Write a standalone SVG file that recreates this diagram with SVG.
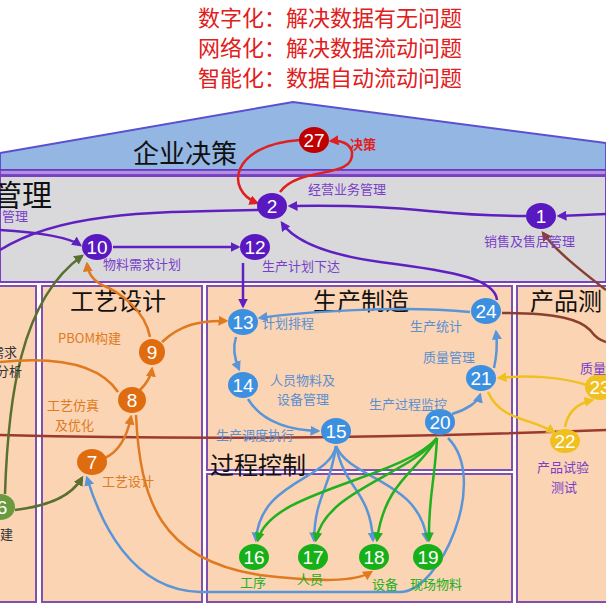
<svg xmlns="http://www.w3.org/2000/svg" width="606" height="607" viewBox="0 0 606 607">
<defs>
<style>
text{font-family:"Noto Sans CJK SC","Liberation Sans",sans-serif}
.t{fill:#e02020;font-size:22px}
.h{fill:#111;font-size:24px}
.lp{fill:#7a3fc8;font-size:13px}
.lb{fill:#5a8fd0;font-size:13px}
.lo{fill:#e07a20;font-size:13px}
.lg{fill:#20b020;font-size:13px}
.n{fill:#fff;font-size:19px;font-family:"Liberation Sans",sans-serif;text-anchor:middle}
.c path{fill:none;stroke-width:2.5}
.box{fill:#fbd4b4;stroke:#8050b0;stroke-width:2}
</style>
<marker id="ap" markerWidth="4" markerHeight="4" refX="3" refY="2" orient="auto"><path d="M0,0L4,2L0,4z" fill="#6020c0"/></marker>
<marker id="ar" markerWidth="4" markerHeight="4" refX="3" refY="2" orient="auto"><path d="M0,0L4,2L0,4z" fill="#e02020"/></marker>
<marker id="ab" markerWidth="4" markerHeight="4" refX="3" refY="2" orient="auto"><path d="M0,0L4,2L0,4z" fill="#5a95d8"/></marker>
<marker id="ag" markerWidth="4" markerHeight="4" refX="3" refY="2" orient="auto"><path d="M0,0L4,2L0,4z" fill="#20b020"/></marker>
<marker id="ao" markerWidth="4" markerHeight="4" refX="3" refY="2" orient="auto"><path d="M0,0L4,2L0,4z" fill="#e07a20"/></marker>
<marker id="ay" markerWidth="4" markerHeight="4" refX="3" refY="2" orient="auto"><path d="M0,0L4,2L0,4z" fill="#f0c020"/></marker>
<marker id="av" markerWidth="4" markerHeight="4" refX="3" refY="2" orient="auto"><path d="M0,0L4,2L0,4z" fill="#5a7030"/></marker>
<marker id="an" markerWidth="4" markerHeight="4" refX="3" refY="2" orient="auto"><path d="M0,0L4,2L0,4z" fill="#8a4030"/></marker>
</defs>
<rect width="606" height="607" fill="#fff"/>
<g id="title">
<text class="t" x="330" y="26" text-anchor="middle">数字化：解决数据有无问题</text>
<text class="t" x="330" y="56" text-anchor="middle">网络化：解决数据流动问题</text>
<text class="t" x="330" y="86" text-anchor="middle">智能化：数据自动流动问题</text>
</g>
<g id="structure">
<polygon points="0,153 293,102 606,143 606,170 0,170" fill="#94b6e2" stroke="#5a50d0" stroke-width="2"/>
<rect x="0" y="170" width="606" height="5" fill="#b090e0" stroke="#6a30c0" stroke-width="1.5"/>
<rect x="0" y="176" width="606" height="106" fill="#d9d9dc" stroke="#7a40c0" stroke-width="2"/>
<rect class="box" x="-2" y="286" width="38" height="316"/>
<rect class="box" x="42" y="286" width="160" height="316"/>
<rect class="box" x="207" y="286" width="305" height="184"/>
<rect class="box" x="207" y="474" width="305" height="128"/>
<rect class="box" x="517" y="286" width="92" height="316"/>
<text class="h" x="133" y="163" style="font-size:26px">企业决策</text>
<text class="h" x="52" y="206" text-anchor="end" style="font-size:30px">管理</text>
<text class="lp" x="28" y="221" text-anchor="end">管理</text>
<text class="h" x="70" y="310">工艺设计</text>
<text class="h" x="313" y="310">生产制造</text>
<text class="h" x="530" y="310">产品测</text>
<text class="h" x="210" y="474">过程控制</text>
</g>
<g class="c" id="connectors">
<path d="M0,435 C200,440 400,438 606,430" stroke="#9a3a30" stroke-width="2"/>
<path d="M300,140 C230,145 225,190 257,203" stroke="#e02020" marker-end="url(#ar)"/>
<path d="M280,192 C300,165 355,180 352,152 C350,143 340,140 331,141" stroke="#e02020" marker-end="url(#ar)"/>
<path d="M606,214 L559,216" stroke="#6020c0" marker-end="url(#ap)"/>
<path d="M526,216 C430,216 420,204 290,206" stroke="#6020c0" marker-end="url(#ap)"/>
<path d="M258,210 C150,212 60,212 0,250" stroke="#6020c0"/>
<path d="M0,230 C40,232 70,238 80,245" stroke="#6020c0" marker-end="url(#ap)"/>
<path d="M113,247 L238,247" stroke="#6020c0" marker-end="url(#ap)"/>
<path d="M243,263 L243,306" stroke="#6020c0" marker-end="url(#ap)"/>
<path d="M497,300 C495,280 460,272 380,262 C330,255 295,242 282,223" stroke="#6020c0" marker-end="url(#ap)"/>
<path d="M606,290 C580,270 555,250 543,233" stroke="#8a4030" stroke-width="2" marker-end="url(#an)"/>
<path d="M502,313 C560,313 580,320 590,330 C596,338 600,340 606,342" stroke="#8a4030" stroke-width="2"/>
<path d="M5,494 C8,400 20,300 82,256" stroke="#5a7030" marker-end="url(#av)"/>
<path d="M15,510 C50,506 72,495 82,478" stroke="#5a7030" marker-end="url(#av)"/>
<path d="M105,458 C122,450 128,432 131,417" stroke="#e07a20" marker-end="url(#ao)"/>
<path d="M140,390 C148,382 151,376 152,369" stroke="#e07a20" marker-end="url(#ao)"/>
<path d="M162,342 C180,325 200,320 226,321" stroke="#e07a20" marker-end="url(#ao)"/>
<path d="M150,337 C145,310 120,292 100,284 C92,279 88,273 87,264" stroke="#e07a20" marker-end="url(#ao)"/>
<path d="M0,362 C60,356 100,365 118,392" stroke="#e07a20"/>
<path d="M136,415 C140,500 160,560 260,575 C320,582 355,582 371,572" stroke="#e07a20" marker-end="url(#ao)"/>
<path d="M448,438 C490,480 440,592 400,592 L200,592 C130,590 100,520 87,478" stroke="#5a95d8" marker-end="url(#ab)"/>
<path d="M236,337 C232,350 235,360 239,369" stroke="#5a95d8" marker-end="url(#ab)"/>
<path d="M248,399 C262,422 290,430 318,431" stroke="#5a95d8" marker-end="url(#ab)"/>
<path d="M470,312 C400,305 300,312 260,318" stroke="#5a95d8" marker-end="url(#ab)"/>
<path d="M494,368 C498,350 497,340 496,332" stroke="#5a95d8" marker-end="url(#ab)"/>
<path d="M452,414 C466,410 478,402 480,395" stroke="#5a95d8" marker-end="url(#ab)"/>
<path d="M336,446 C330,480 260,480 256,540" stroke="#5a95d8" marker-end="url(#ab)"/>
<path d="M336,446 C330,490 315,495 314,540" stroke="#5a95d8" marker-end="url(#ab)"/>
<path d="M336,446 C345,490 370,490 373,540" stroke="#5a95d8" marker-end="url(#ab)"/>
<path d="M336,446 C350,480 420,480 427,540" stroke="#5a95d8" marker-end="url(#ab)"/>
<path d="M437,438 C400,480 270,490 258,540" stroke="#20b020" marker-end="url(#ag)"/>
<path d="M437,438 C410,475 325,490 316,540" stroke="#20b020" marker-end="url(#ag)"/>
<path d="M437,438 C420,470 385,480 377,540" stroke="#20b020" marker-end="url(#ag)"/>
<path d="M437,438 C435,480 428,500 429,540" stroke="#20b020" marker-end="url(#ag)"/>
<path d="M590,386 C560,376 525,375 499,378" stroke="#f0c020" marker-end="url(#ay)"/>
<path d="M488,392 C500,420 530,418 554,432" stroke="#f0c020" marker-end="url(#ay)"/>
<path d="M565,427 C568,410 580,403 592,400" stroke="#f0c020" marker-end="url(#ay)"/>
</g>
<g id="n27"><ellipse cx="314" cy="140" rx="15" ry="13" fill="#c00000"/><text class="n" x="314" y="147">27</text><text x="350" y="149" style="fill:#e02020;font-size:13px;font-weight:bold">决策</text></g>
<g id="n2"><ellipse cx="272" cy="206" rx="15" ry="13" fill="#5a18c0"/><text class="n" x="272" y="213">2</text><text class="lp" x="308" y="194">经营业务管理</text></g>
<g id="n1"><ellipse cx="541" cy="216" rx="15" ry="13" fill="#5a18c0"/><text class="n" x="541" y="223">1</text><text class="lp" x="484" y="246">销售及售后管理</text></g>
<g id="n10"><ellipse cx="97" cy="247" rx="15" ry="13" fill="#5a18c0"/><text class="n" x="97" y="254">10</text><text class="lp" x="103" y="269">物料需求计划</text></g>
<g id="n12"><ellipse cx="255" cy="247" rx="15" ry="13" fill="#5a18c0"/><text class="n" x="255" y="254">12</text><text class="lp" x="262" y="271">生产计划下达</text></g>
<g id="n13"><ellipse cx="243" cy="322" rx="15" ry="13" fill="#3d8fe0"/><text class="n" x="243" y="329">13</text><text class="lb" x="262" y="328">计划排程</text></g>
<g id="n14"><ellipse cx="243" cy="385" rx="15" ry="13" fill="#3d8fe0"/><text class="n" x="243" y="392">14</text><text class="lb" x="270" y="385">人员物料及</text><text class="lb" x="277" y="404">设备管理</text></g>
<g id="n15"><ellipse cx="336" cy="431" rx="15" ry="13" fill="#3d8fe0"/><text class="n" x="336" y="438">15</text><text class="lb" x="216" y="440">生产调度执行</text></g>
<g id="n24"><ellipse cx="486" cy="311" rx="15" ry="13" fill="#3d8fe0"/><text class="n" x="486" y="318">24</text><text class="lb" x="410" y="331">生产统计</text></g>
<g id="n21"><ellipse cx="481" cy="378" rx="15" ry="13" fill="#3d8fe0"/><text class="n" x="481" y="385">21</text><text class="lb" x="423" y="362">质量管理</text></g>
<g id="n20"><ellipse cx="440" cy="422" rx="15" ry="13" fill="#3d8fe0"/><text class="n" x="440" y="429">20</text><text class="lb" x="369" y="409">生产过程监控</text></g>
<g id="n16"><ellipse cx="254" cy="557" rx="15" ry="13" fill="#18b018"/><text class="n" x="254" y="564">16</text><text class="lg" x="240" y="587">工序</text></g>
<g id="n17"><ellipse cx="313" cy="557" rx="15" ry="13" fill="#18b018"/><text class="n" x="313" y="564">17</text><text class="lg" x="297" y="584">人员</text></g>
<g id="n18"><ellipse cx="374" cy="557" rx="15" ry="13" fill="#18b018"/><text class="n" x="374" y="564">18</text><text class="lg" x="372" y="589">设备</text></g>
<g id="n19"><ellipse cx="428" cy="557" rx="15" ry="13" fill="#18b018"/><text class="n" x="428" y="564">19</text><text class="lg" x="410" y="589">现场物料</text></g>
<g id="n9"><ellipse cx="152" cy="352" rx="13" ry="13" fill="#e06c10"/><text class="n" x="152" y="359">9</text><text class="lo" x="58" y="343">PBOM构建</text></g>
<g id="n8"><ellipse cx="132" cy="400" rx="14" ry="13" fill="#e06c10"/><text class="n" x="132" y="407">8</text><text class="lo" x="47" y="410">工艺仿真</text><text class="lo" x="55" y="430">及优化</text></g>
<g id="n7"><ellipse cx="92" cy="462" rx="15" ry="13" fill="#e06c10"/><text class="n" x="92" y="469">7</text><text class="lo" x="102" y="486">工艺设计</text></g>
<g id="n6"><ellipse cx="0" cy="507" rx="15" ry="13" fill="#6a9a40"/><text class="n" x="2" y="514">6</text><text class="lo" x="13" y="539" text-anchor="end" style="fill:#333">构建</text></g>
<g id="left-labels"><text class="lb" x="17" y="357" text-anchor="end" style="fill:#333">需求</text><text class="lb" x="22" y="376" text-anchor="end" style="fill:#333">分析</text></g>
<g id="n23"><ellipse cx="600" cy="387" rx="15" ry="13" fill="#f0c020"/><text class="n" x="600" y="394">23</text><text class="lp" x="580" y="373">质量</text></g>
<g id="n22"><ellipse cx="565" cy="441" rx="15" ry="12" fill="#f0c020"/><text class="n" x="565" y="448">22</text><text class="lp" x="537" y="472">产品试验</text><text class="lp" x="551" y="492">测试</text></g>
</svg>
